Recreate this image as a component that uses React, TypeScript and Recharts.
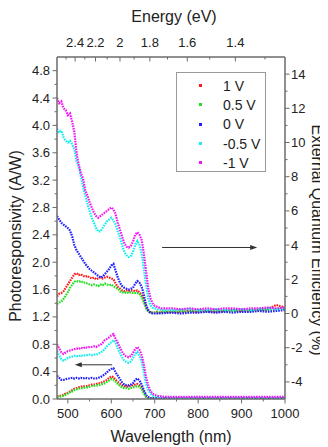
import React from 'react';
import { ComposedChart, Line, XAxis, YAxis, Legend, ReferenceLine, Customized } from 'recharts';

// wavelength in nm, dense through the absorption edge and sparse in the flat tail
const wavelength = [
  475, 480, 485, 490, 495, 500, 505, 510, 515, 520,
  525, 530, 535, 540, 545, 550, 555, 560, 565, 570,
  575, 580, 585, 590, 595, 600, 605, 610, 615, 620,
  625, 630, 635, 640, 645, 650, 655, 660, 665, 670,
  675, 680, 685, 690, 695, 700, 705, 710, 715, 720,
  740, 760, 780, 800, 820, 840, 860, 880, 900, 920, 940, 960, 980, 1000,
];

// External quantum efficiency (%), right axis
const eqeOne = [
  1.0, 1.15, 1.2, 1.3, 1.5, 1.7, 1.9, 2.1, 2.3, 2.35,
  2.25, 2.3, 2.2, 2.15, 2.2, 2.1, 2.05, 2.1, 2.0, 2.05,
  2.1, 2.05, 2.1, 2.15, 2.1, 2.05, 2.0, 1.75, 1.55, 1.45,
  1.35, 1.3, 1.35, 1.3, 1.35, 1.35, 1.3, 1.35, 1.25, 1.1,
  0.8, 0.4, 0.15, 0.05, 0.05, 0.05, 0.1, 0.05, 0.1, 0.1,
  0.1, 0.1, 0.15, 0.1, 0.15, 0.1, 0.15, 0.2, 0.15, 0.2, 0.2, 0.25, 0.5, 0.35,
];
const eqeHalf = [
  0.55, 0.65, 0.7, 0.85, 1.05, 1.25, 1.5, 1.7, 1.85, 1.9,
  1.85, 1.9, 1.8, 1.8, 1.75, 1.7, 1.65, 1.7, 1.65, 1.6,
  1.7, 1.65, 1.75, 1.7, 1.65, 1.7, 1.6, 1.5, 1.45, 1.3,
  1.25, 1.2, 1.25, 1.2, 1.25, 1.2, 1.2, 1.2, 1.15, 0.95,
  0.65, 0.3, 0.1, 0.05, 0.05, 0.05, 0.08, 0.05, 0.08, 0.1,
  0.1, 0.12, 0.1, 0.15, 0.1, 0.15, 0.12, 0.15, 0.2, 0.15, 0.2, 0.2, 0.25, 0.3,
];
const eqeZero = [
  5.7, 5.5, 5.3, 5.2, 5.1, 5.0, 4.85, 4.5, 4.0, 3.7,
  3.5, 3.3, 3.1, 2.9, 2.75, 2.6, 2.5, 2.4, 2.3, 2.2,
  2.1, 2.15, 2.3, 2.45, 2.6, 2.8, 2.9, 2.5, 2.1, 1.8,
  1.6, 1.5, 1.45, 1.4, 1.45, 1.5, 1.75, 1.9, 1.8, 1.55,
  1.1, 0.5, 0.2, 0.05, 0, 0, 0, 0.02, 0, 0.02,
  0.05, 0, 0.05, 0.05, 0.1, 0.05, 0.1, 0.05, 0.1, 0.1, 0.15, 0.1, 0.15, 0.2,
];
const eqeNegHalf = [
  10.8, 10.6, 10.7, 10.3, 10.1, 10.0, 10.1, 9.9, 9.6, 8.9,
  8.6, 8.0, 7.4, 6.9, 6.4, 6.0, 5.6, 5.3, 5.0, 4.8,
  4.8, 5.0, 5.2, 5.4, 5.5, 5.6, 5.45, 5.2, 4.8, 4.45,
  4.0, 3.6, 3.4, 3.3, 3.35, 3.6, 4.0, 4.25, 4.0, 3.5,
  2.6, 1.7, 0.9, 0.5, 0.35, 0.3, 0.25, 0.25, 0.2, 0.2,
  0.2, 0.2, 0.25, 0.2, 0.2, 0.25, 0.2, 0.2, 0.25, 0.2, 0.25, 0.3, 0.25, 0.3,
];
const eqeNegOne = [
  12.6, 12.3, 12.4, 12.0, 11.9, 11.6, 11.7, 11.2, 10.6, 9.4,
  8.7, 8.2, 7.9, 7.2, 6.9, 6.5, 6.2, 5.9, 5.7, 5.6,
  5.7, 5.8, 5.9, 6.0, 6.1, 6.2, 6.1, 5.8, 5.3, 4.9,
  4.5, 4.1, 3.9, 3.85, 3.95, 4.2, 4.6, 4.75, 4.6, 4.3,
  3.5, 2.5, 1.5, 0.9, 0.6, 0.45, 0.4, 0.35, 0.3, 0.3,
  0.3, 0.25, 0.3, 0.25, 0.3, 0.25, 0.3, 0.3, 0.25, 0.3, 0.3, 0.35, 0.3, 0.35,
];

// Photoresponsivity (A/W), left axis
const respOne = [
  0.04, 0.04, 0.05, 0.06, 0.08, 0.09, 0.11, 0.13, 0.15, 0.16,
  0.17, 0.18, 0.18, 0.19, 0.19, 0.2, 0.21, 0.21, 0.22, 0.23,
  0.23, 0.25, 0.26, 0.28, 0.31, 0.33, 0.32, 0.28, 0.25, 0.22,
  0.2, 0.19, 0.18, 0.18, 0.19, 0.2, 0.21, 0.22, 0.2, 0.17,
  0.1, 0.04, 0.02, 0.01, 0.01, 0.01, 0.01, 0.01, 0.01, 0.01,
  0.01, 0.01, 0.01, 0.01, 0.01, 0.01, 0.01, 0.01, 0.01, 0.01, 0.01, 0.01, 0.01, 0.01,
];
const respHalf = [
  0.03, 0.03, 0.04, 0.05, 0.06, 0.08, 0.1, 0.11, 0.13, 0.14,
  0.15, 0.16, 0.16, 0.17, 0.17, 0.18, 0.19, 0.19, 0.2, 0.2,
  0.21, 0.22, 0.23, 0.25, 0.27, 0.29, 0.28, 0.25, 0.22, 0.19,
  0.17, 0.16, 0.16, 0.15, 0.16, 0.17, 0.18, 0.19, 0.18, 0.15,
  0.08, 0.03, 0.01, 0.01, 0.01, 0.01, 0.01, 0.01, 0.01, 0.01,
  0.01, 0.01, 0.01, 0.01, 0.01, 0.01, 0.01, 0.01, 0.01, 0.01, 0.01, 0.01, 0.01, 0.01,
];
const respZero = [
  0.34, 0.31, 0.28, 0.28, 0.29, 0.3, 0.3, 0.31, 0.3, 0.31,
  0.3, 0.31, 0.3, 0.31, 0.3, 0.3, 0.31, 0.3, 0.3, 0.31,
  0.32, 0.34, 0.36, 0.39, 0.42, 0.44, 0.45, 0.39, 0.34, 0.29,
  0.24, 0.21, 0.2, 0.2, 0.21, 0.23, 0.28, 0.3, 0.27, 0.21,
  0.13, 0.06, 0.03, 0.01, 0.01, 0.01, 0.01, 0.01, 0.01, 0.01,
  0.01, 0.01, 0.01, 0.01, 0.01, 0.01, 0.01, 0.01, 0.01, 0.01, 0.01, 0.01, 0.01, 0.01,
];
const respNegHalf = [
  0.7, 0.64, 0.58, 0.56, 0.58, 0.6, 0.61, 0.62, 0.63, 0.63,
  0.62, 0.64, 0.63, 0.64, 0.64, 0.65, 0.64, 0.65, 0.65, 0.66,
  0.68, 0.7, 0.73, 0.77, 0.8, 0.83, 0.86, 0.82, 0.74, 0.67,
  0.61, 0.56, 0.54, 0.53, 0.55, 0.6, 0.66, 0.69, 0.63, 0.54,
  0.38, 0.22, 0.13, 0.08, 0.05, 0.04, 0.03, 0.03, 0.03, 0.03,
  0.02, 0.02, 0.02, 0.02, 0.02, 0.02, 0.02, 0.02, 0.02, 0.02, 0.02, 0.02, 0.02, 0.02,
];
const respNegOne = [
  0.8, 0.74, 0.68, 0.66, 0.68, 0.7, 0.71, 0.72, 0.73, 0.74,
  0.73, 0.75, 0.74, 0.76, 0.75, 0.76, 0.76, 0.77, 0.76, 0.78,
  0.79, 0.82, 0.86, 0.88, 0.9, 0.93, 0.95, 0.88, 0.82, 0.75,
  0.69, 0.64, 0.62, 0.61, 0.63, 0.67, 0.73, 0.76, 0.72, 0.64,
  0.5, 0.32, 0.2, 0.12, 0.08, 0.06, 0.05, 0.04, 0.04, 0.03,
  0.03, 0.03, 0.03, 0.03, 0.03, 0.03, 0.03, 0.03, 0.03, 0.03, 0.03, 0.03, 0.03, 0.03,
];

const biasLabels = ['1 V', '0.5 V', '0 V', '-0.5 V', '-1 V'];
const biasColors = ['#ff1a1a', '#1fe01f', '#1f1fff', '#14eeee', '#f514f5'];

const leftTicks = [0, 0.2, 0.4, 0.6, 0.8, 1.0, 1.2, 1.4, 1.6, 1.8, 2.0, 2.2, 2.4, 2.6, 2.8, 3.0, 3.2, 3.4, 3.6, 3.8, 4.0, 4.2, 4.4, 4.6, 4.8];
const rightTicks = [-4, -3, -2, -1, 0, 1, 2, 3, 4, 5, 6, 7, 8, 9, 10, 11, 12, 13, 14];
const bottomTicks = [500, 550, 600, 650, 700, 750, 800, 850, 900, 950, 1000];
const energyTicks = [2.5, 2.4, 2.3, 2.2, 2.1, 2.0, 1.9, 1.8, 1.7, 1.6, 1.5, 1.4, 1.3];
const energyLabels = [2.4, 2.2, 2.0, 1.8, 1.6, 1.4];

const eqeSeries = [eqeOne, eqeHalf, eqeZero, eqeNegHalf, eqeNegOne];
const respSeries = [respOne, respHalf, respZero, respNegHalf, respNegOne];

const rows = wavelength.map((w, i) => {
  const row: Record<string, number> = { w };
  eqeSeries.forEach((s, k) => (row[`e${k}`] = s[i]));
  respSeries.forEach((s, k) => (row[`r${k}`] = s[i]));
  return row;
});

const W = 320;
const H = 439;
const PLOT = { left: 49, top: 49, right: 277, bottom: 391 };
const AXIS = '#6b6b6b';
const TXT = '#222';
const FONT = '"Liberation Sans", Arial, sans-serif';

const LeftTick = ({ y, payload }: any) => {
  const v = payload.value;
  const major = Math.round(v * 10) % 4 === 0;
  return (
    <g>
      <line x1={PLOT.left - (major ? 4.5 : 2.5)} x2={PLOT.left} y1={y} y2={y} stroke={AXIS} />
      {major && (
        <text x={PLOT.left - 7} y={y} dy={4.5} textAnchor="end" fontSize={13} fill={TXT} fontFamily={FONT}>
          {v.toFixed(1)}
        </text>
      )}
    </g>
  );
};

const RightTick = ({ y, payload }: any) => {
  const v = payload.value;
  const major = v % 2 === 0;
  return (
    <g>
      <line x1={PLOT.right} x2={PLOT.right + (major ? 4.5 : 2.5)} y1={y} y2={y} stroke={AXIS} />
      {major && (
        <text x={PLOT.right + 6} y={y} dy={4.5} textAnchor="start" fontSize={13} fill={TXT} fontFamily={FONT}>
          {v}
        </text>
      )}
    </g>
  );
};

const BottomTick = ({ x, payload }: any) => {
  const v = payload.value;
  const major = v % 100 === 0;
  return (
    <g>
      <line x1={x} x2={x} y1={PLOT.bottom} y2={PLOT.bottom + (major ? 4.5 : 2.5)} stroke={AXIS} />
      {major && (
        <text x={x} y={PLOT.bottom + 19} textAnchor="middle" fontSize={13} fill={TXT} fontFamily={FONT}>
          {v}
        </text>
      )}
    </g>
  );
};

const TopTick = ({ x, payload }: any) => {
  const e = 1240 / payload.value;
  const rounded = Math.round(e * 10) / 10;
  const major = energyLabels.some((m) => Math.abs(m - rounded) < 1e-6);
  return (
    <g>
      <line x1={x} x2={x} y1={PLOT.top} y2={PLOT.top + (major ? 4.5 : 2.5)} stroke={AXIS} />
      {major && (
        <text x={x} y={PLOT.top - 10} textAnchor="middle" fontSize={13} fill={TXT} fontFamily={FONT}>
          {String(rounded)}
        </text>
      )}
    </g>
  );
};

const Arrow = (p: any) => {
  const { x1, y1, x2, y2 } = p;
  if (x1 == null) return null;
  const dir = Math.sign(x2 - x1);
  return (
    <g>
      <line x1={x1} y1={y1} x2={x2 - dir * 5} y2={y2} stroke="#333" strokeWidth={1} />
      <polygon points={`${x2},${y2} ${x2 - dir * 7},${y2 - 2.5} ${x2 - dir * 7},${y2 + 2.5}`} fill="#333" />
    </g>
  );
};

const Titles = () => (
  <g fontFamily={FONT} fontSize={16} fill={TXT}>
    <text x={166} y={14} textAnchor="middle">Energy (eV)</text>
    <text x={163} y={434} textAnchor="middle">Wavelength (nm)</text>
    <text transform="translate(13,228) rotate(-90)" textAnchor="middle">Photoresponsivity (A/W)</text>
    <text transform="translate(304,232) rotate(90)" textAnchor="middle">External Quantum Efficiency (%)</text>
  </g>
);

const LegendBox = () => (
  <div
    style={{
      width: 90,
      height: 100,
      border: '1px solid #9a9a9a',
      boxSizing: 'border-box',
      background: '#fff',
      paddingTop: 3,
      fontFamily: FONT,
      fontSize: 14,
      color: TXT,
    }}
  >
    {biasLabels.map((lab, i) => (
      <div key={lab} style={{ display: 'flex', alignItems: 'center', height: 19.3 }}>
        <span style={{ width: 3, height: 3, background: biasColors[i], marginLeft: 22, marginRight: 21 }} />
        <span>{lab}</span>
      </div>
    ))}
  </div>
);

const seriesStyle = {
  strokeWidth: 2.2,
  strokeDasharray: '1.6 1',
  dot: false,
  type: 'linear' as const,
  isAnimationActive: false,
};

export default function App() {
  return (
    <div style={{ width: W, height: H }}>
      <ComposedChart
        width={W}
        height={H}
        data={rows}
        margin={{ top: 19, right: 13, bottom: 18, left: 9 }}
      >
        <XAxis
          dataKey="w"
          type="number"
          domain={[475, 1000]}
          ticks={bottomTicks}
          interval={0}
          height={30}
          tick={<BottomTick />}
          tickLine={false}
          axisLine={{ stroke: AXIS, strokeWidth: 1.5 }}
          allowDataOverflow
        />
        <XAxis
          xAxisId="top"
          dataKey="w"
          orientation="top"
          type="number"
          domain={[475, 1000]}
          ticks={energyTicks.map((e) => 1240 / e)}
          interval={0}
          height={30}
          tick={<TopTick />}
          tickLine={false}
          axisLine={{ stroke: AXIS, strokeWidth: 1.5 }}
          allowDataOverflow
        />
        <YAxis
          yAxisId="left"
          type="number"
          domain={[0, 5]}
          ticks={leftTicks}
          interval={0}
          width={40}
          tick={<LeftTick />}
          tickLine={false}
          axisLine={{ stroke: AXIS, strokeWidth: 1.5 }}
          allowDataOverflow
        />
        <YAxis
          yAxisId="right"
          orientation="right"
          type="number"
          domain={[-5, 15]}
          ticks={rightTicks}
          interval={0}
          width={30}
          tick={<RightTick />}
          tickLine={false}
          axisLine={{ stroke: AXIS, strokeWidth: 1.5 }}
          allowDataOverflow
        />
        {/* keeps the energy axis bound to the same wavelength data */}
        <Line
          xAxisId="top"
          yAxisId="left"
          dataKey="r0"
          stroke="none"
          dot={false}
          legendType="none"
          isAnimationActive={false}
        />
        {biasLabels.map((lab, k) => (
          <Line
            key={`e${k}`}
            yAxisId="right"
            dataKey={`e${k}`}
            name={lab}
            stroke={biasColors[k]}
            {...seriesStyle}
          />
        ))}
        {biasLabels.map((lab, k) => (
          <Line
            key={`r${k}`}
            yAxisId="left"
            dataKey={`r${k}`}
            name={lab}
            stroke={biasColors[k]}
            legendType="none"
            {...seriesStyle}
          />
        ))}
        <ReferenceLine
          yAxisId="right"
          segment={[{ x: 717, y: 3.86 }, { x: 936, y: 3.86 }]}
          shape={<Arrow />}
        />
        <ReferenceLine
          yAxisId="left"
          segment={[{ x: 602, y: 0.5 }, { x: 516, y: 0.5 }]}
          shape={<Arrow />}
        />
        <Legend
          layout="horizontal"
          verticalAlign="middle"
          align="center"
          content={<LegendBox />}
          wrapperStyle={{ left: 168, top: 64, width: 90, height: 100 }}
        />
        <Customized component={Titles} />
      </ComposedChart>
    </div>
  );
}
